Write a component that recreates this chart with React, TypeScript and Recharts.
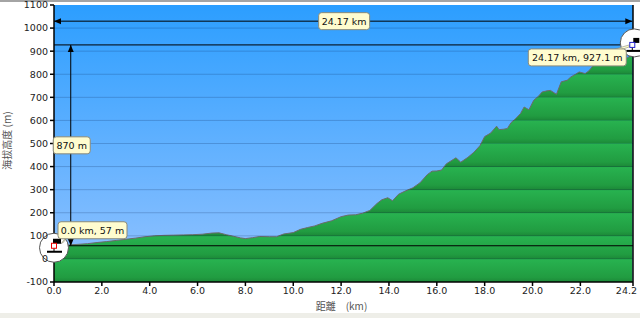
import React from 'react';
import {
  ComposedChart, Area, XAxis, YAxis, CartesianGrid, ReferenceLine, ReferenceDot, Label,
} from 'recharts';

// profile: distance (km) / elevation (m)
const distanceKm = [
  0, 0.3, 0.7, 1.0, 1.4, 1.8, 2.2, 2.6, 3.0, 3.4, 3.8, 4.2, 4.6, 5.0, 5.4, 5.8, 6.2, 6.6, 6.9, 7.2,
  7.5, 7.8, 8.0, 8.3, 8.6, 9.0, 9.3, 9.6, 10.0, 10.3, 10.6, 10.9, 11.2, 11.6, 12.0, 12.3, 12.6, 12.9,
  13.2, 13.5, 13.7, 13.95, 14.15, 14.4, 14.7, 15.0, 15.3, 15.6, 15.8, 16.0, 16.2, 16.4, 16.6, 16.8,
  17.0, 17.3, 17.55, 17.8, 18.0, 18.25, 18.5, 18.6, 18.8, 18.95, 19.1, 19.3, 19.5, 19.65, 19.85,
  20.05, 20.25, 20.4, 20.6, 20.75, 21.0, 21.2, 21.45, 21.6, 21.8, 21.95, 22.2, 22.35, 22.55, 22.8,
  23.1, 23.4, 23.7, 23.95, 24.1, 24.17,
];
const elevationM = [
  57, 58, 61, 63, 66, 71, 75, 80, 85, 90, 96, 100, 102, 103, 104, 105, 107, 112, 113, 105,
  98, 91, 88, 92, 97, 96, 96, 108, 114, 128, 136, 143, 154, 165, 183, 190, 191, 198,
  210, 240, 256, 265, 252, 280, 295, 308, 330, 365, 380, 381, 385, 412, 425, 438,
  419, 440, 462, 490, 530, 545, 575, 560, 562, 565, 590, 608, 630, 658, 646,
  687, 705, 723, 728, 730, 713, 767, 774, 788, 800, 810, 803, 814, 839, 848,
  855, 862, 866, 870, 880, 927.1,
];

const xTicks = [0, 2, 4, 6, 8, 10, 12, 14, 16, 18, 20, 22, 24.2];
const yTicks = [-100, 0, 100, 200, 300, 400, 500, 600, 700, 800, 900, 1000, 1100];
const gridValues = [0, 100, 200, 300, 400, 500, 600, 700, 800, 900, 1000];

const startPoint = { km: 0, elev: 57, text: '0.0 km, 57 m' };
const endPoint = { km: 24.17, elev: 927.1, text: '24.17 km, 927.1 m' };
const distanceLine = { elev: 1030, text: '24.17 km' };
const climbLine = { km: 0.7, text: '870 m' };

const W = 640;
const H = 318;
const TOP = 5;
const XAXIS_H = 36;
const PLOT_H = H - TOP - XAXIS_H;
const FONT = '"DejaVu Sans", Verdana, sans-serif';

const data = distanceKm.map((km, i) => ({ km, elev: elevationM[i] }));

const arrow = (tx: number, ty: number, ux: number, uy: number) => {
  const bx = tx - ux * 7;
  const by = ty - uy * 7;
  return `${tx},${ty} ${bx - uy * 3},${by + ux * 3} ${bx + uy * 3},${by - ux * 3}`;
};

const DimLine = (p: any) => {
  const { x1, y1, x2, y2 } = p;
  const len = Math.hypot(x2 - x1, y2 - y1) || 1;
  const ux = (x2 - x1) / len;
  const uy = (y2 - y1) / len;
  return (
    <g>
      <line x1={x1} y1={y1} x2={x2} y2={y2} stroke="#000" strokeWidth={1} />
      <polygon points={arrow(x2, y2, ux, uy)} fill="#000" />
      <polygon points={arrow(x1, y1, -ux, -uy)} fill="#000" />
    </g>
  );
};

const noteBox = (x: number, y: number, w: number, text: string) => (
  <g>
    <rect x={x} y={y} width={w} height={17} rx={3} fill="#FFFCCF" stroke="#8a8a7a" />
    <text x={x + w / 2} y={y + 12.5} textAnchor="middle" fontSize={9.5} fontFamily={FONT} fill="#111">{text}</text>
  </g>
);

const CenterNote = (text: string, w: number) => (p: any) => noteBox(p.cx - w / 2 + 1, p.cy - 8.5, w, text);

const StartIcon = (p: any) => {
  const { cx, cy } = p;
  return (
    <g>
      <circle cx={cx} cy={cy + 2} r={14.5} fill="#fff" stroke="#555" />
      <polygon points={`${cx + 7},${cy - 2} ${cx + 14},${cy - 11} ${cx + 15},${cy - 13} ${cx + 10},${cy - 4}`} fill="#FFFCCF" stroke="#8a8a7a" strokeWidth={0.6} />
      <rect x={cx - 1} y={cy - 7} width={8} height={5} fill="#000" />
      <line x1={cx} y1={cy} x2={cx} y2={cy + 6} stroke="#000" />
      <rect x={cx - 7} y={cy + 5} width={15} height={2} fill="#000" />
      <rect x={cx - 2.5} y={cy - 2.5} width={5} height={5} fill="#fff" stroke="#e00" />
      {noteBox(cx + 4, cy - 24, 69, startPoint.text)}
    </g>
  );
};

const EndIcon = (p: any) => {
  const { cx, cy } = p;
  return (
    <g>
      <circle cx={cx + 2} cy={cy - 2} r={14} fill="#fff" stroke="#555" />
      <polygon points={`${cx - 20},${cy + 5} ${cx - 3},${cy} ${cx - 3},${cy + 2} ${cx - 12},${cy + 5}`} fill="#FFFCCF" stroke="#8a8a7a" strokeWidth={0.6} />
      <rect x={cx + 1} y={cy - 7} width={6} height={5} fill="#000" />
      <line x1={cx} y1={cy} x2={cx} y2={cy + 6} stroke="#000" />
      <rect x={cx - 6} y={cy + 5} width={14} height={2} fill="#000" />
      <rect x={cx - 2.5} y={cy - 2.5} width={5} height={5} fill="#fff" stroke="#22c" />
      {noteBox(cx - 104, cy + 4, 98, endPoint.text)}
    </g>
  );
};

const tickStyle = { fontSize: 9.5, fill: '#222', fontFamily: FONT };

// last tick label sits flush with the right edge, as in the source
const XTick = (p: any) => {
  const last = p.payload.value === xTicks[xTicks.length - 1];
  return (
    <text
      x={last ? p.x + 4 : p.x}
      y={p.y}
      dy="0.71em"
      textAnchor={last ? 'end' : 'middle'}
      {...tickStyle}
    >
      {Number(p.payload.value).toFixed(1)}
    </text>
  );
};

export default function App() {
  return (
    <div style={{ position: 'absolute', left: 0, top: 0, width: W, height: H, background: '#fff' }}>
      <div style={{ position: 'absolute', left: 0, top: 0, width: W, height: 2, background: '#a4a4a4' }} />
      <div style={{ position: 'absolute', left: 0, top: 313, width: W, height: 5, background: '#eeeee8' }} />
      <ComposedChart
        width={W}
        height={H}
        data={data}
        margin={{ top: TOP, right: 7, bottom: 0, left: 0 }}
        style={{ position: 'absolute', left: 0, top: 0 }}
      >
        <defs>
          <linearGradient id="sky" x1="0" y1="0" x2="0" y2="1">
            <stop offset="0%" stopColor="#2c9eff" />
            <stop offset="100%" stopColor="#94c3ff" />
          </linearGradient>
          <linearGradient id="ground" gradientUnits="userSpaceOnUse" x1="0" y1={TOP} x2="0" y2={TOP + PLOT_H / 12} spreadMethod="repeat">
            <stop offset="0%" stopColor="#28b350" />
            <stop offset="80%" stopColor="#219c41" />
            <stop offset="100%" stopColor="#1c8838" />
          </linearGradient>
        </defs>
        <CartesianGrid horizontal={false} vertical={false} fill="url(#sky)" />
        <XAxis
          dataKey="km"
          type="number"
          domain={[0, 24.2]}
          ticks={xTicks}
          allowDataOverflow
          height={XAXIS_H}
          tick={<XTick />}
          tickSize={4}
          tickMargin={1}
          stroke="#000"
          strokeWidth={1.5}
          interval={0}
        >
          <Label
            content={(p: any) => (
              <text x={p.viewBox.x + p.viewBox.width / 2 - 2} y={310} textAnchor="middle" fontSize={10} fill="#555" fontFamily='"Noto Sans CJK JP", sans-serif'>
                距離　(km)
              </text>
            )}
          />
        </XAxis>
        <YAxis
          type="number"
          domain={[-100, 1100]}
          ticks={yTicks}
          allowDataOverflow
          width={54}
          tick={tickStyle}
          tickSize={4}
          tickMargin={2}
          stroke="#000"
          strokeWidth={1.5}
          interval={0}
        >
          <Label
            content={(p: any) => {
              const cy = p.viewBox.y + p.viewBox.height / 2 - 3;
              return (
                <text x={11} y={cy} transform={`rotate(-90 11 ${cy})`} textAnchor="middle" fontSize={10} fill="#555" fontFamily='"Noto Sans CJK JP", sans-serif'>
                  海拔高度 (m)
                </text>
              );
            }}
          />
        </YAxis>
        <Area
          type="linear"
          dataKey="elev"
          baseValue="dataMin"
          stroke="#6b6b6b"
          strokeWidth={1}
          fill="url(#ground)"
          fillOpacity={1}
          isAnimationActive={false}
          dot={false}
          activeDot={false}
        />
        {gridValues.map((v) => (
          <ReferenceLine key={v} y={v} stroke="rgba(0,25,70,0.2)" strokeWidth={1} />
        ))}
        <ReferenceLine x={24.2} stroke="#000" strokeWidth={1.5} ifOverflow="visible" />
        <ReferenceLine y={startPoint.elev} stroke="#000" strokeWidth={1} />
        <ReferenceLine y={endPoint.elev} stroke="#000" strokeWidth={1} />
        <ReferenceLine
          segment={[{ x: startPoint.km, y: distanceLine.elev }, { x: endPoint.km, y: distanceLine.elev }]}
          shape={DimLine}
          ifOverflow="visible"
        />
        <ReferenceLine
          segment={[{ x: climbLine.km, y: startPoint.elev }, { x: climbLine.km, y: endPoint.elev }]}
          shape={DimLine}
          ifOverflow="visible"
        />
        <ReferenceDot
          x={(startPoint.km + endPoint.km) / 2}
          y={distanceLine.elev}
          ifOverflow="visible"
          shape={CenterNote(distanceLine.text, 51)}
        />
        <ReferenceDot
          x={climbLine.km}
          y={(startPoint.elev + endPoint.elev) / 2}
          ifOverflow="visible"
          shape={CenterNote(climbLine.text, 37)}
        />
        <ReferenceDot x={startPoint.km} y={startPoint.elev} ifOverflow="visible" shape={StartIcon} />
        <ReferenceDot x={endPoint.km} y={endPoint.elev} ifOverflow="visible" shape={EndIcon} />
      </ComposedChart>
    </div>
  );
}
